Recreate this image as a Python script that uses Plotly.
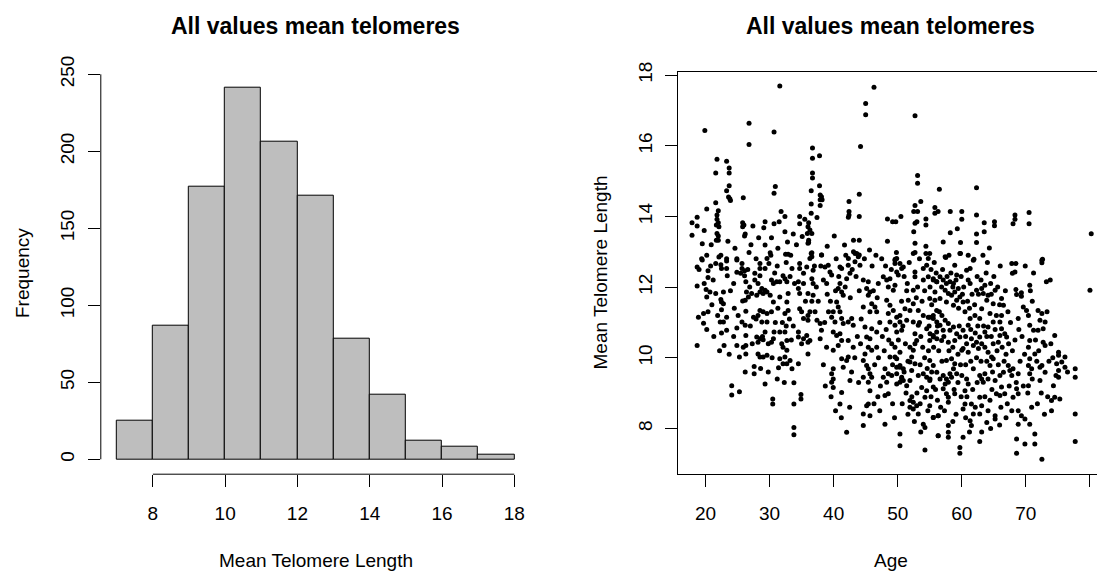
import plotly.graph_objects as go

# ---------------- data ----------------
bin_edges = [7, 8, 9, 10, 11, 12, 13, 14, 15, 16, 17, 18]
counts = [25, 87, 177, 241, 206, 171, 78, 42, 12, 8, 3]
hist_xticks = [8, 10, 12, 14, 16, 18]
hist_yticks = [0, 50, 100, 150, 200, 250]
scatter_xticks = [20, 30, 40, 50, 60, 70, 80]
scatter_yticks = [8, 10, 12, 14, 16, 18]

# (age, mean telomere length), grouped by region
young_upper = [(31.6,17.69),(19.9,16.43),(26.8,16.64),(26.8,16.04),(30.7,16.39),(21.8,15.62),(23.3,15.56),(23.7,15.37),(23.7,15.23),(21.6,15.23),(23.7,14.87),(23.3,14.73),(23.8,14.5),(23.9,14.45),(23.6,14.55),(25.9,14.53),(30.9,14.85),(30.7,14.66),(21.6,14.39),(20.2,14.21),(22.0,14.16),(18.7,13.98),(17.9,13.82),(18.7,13.73),(17.9,13.47),(21.8,14.04),(21.8,13.92),(22.0,13.82),(21.7,13.76),(22.1,13.71),(21.8,13.52),(22.0,13.45),(21.7,13.33),(22.0,13.33),(19.5,13.23),(25.8,13.82),(26.0,13.76),(25.8,13.71),(26.2,13.5),(26.1,13.45),(27.4,13.73),(29.3,13.85),(29.1,13.68),(30.7,13.79),(31.5,13.85),(31.8,14.14),(32.4,14.0),(32.4,13.57),(32.8,13.28),(30.3,13.4),(29.3,13.19),(34.7,14.0),(35.5,13.92),(34.7,13.79),(36.1,13.82),(35.1,13.43),(35.9,13.52),(36.1,13.33),(36.1,13.26),(26.8,12.98),(30.1,12.97),(30.2,12.9),(32.5,12.93),(32.9,12.93),(33.3,12.9),(20.2,12.9),(22.1,12.85),(22.4,12.9),(23.3,12.8),(24.9,12.8),(19.4,12.8)]

young_lower = [(19.5,12.77),(18.7,12.57),(20.4,12.46),(20.4,12.27),(21.6,12.67),(22.4,12.63),(22.5,12.53),(23.3,12.74),(23.3,12.53),(23.4,12.32),(24.9,12.77),(25.7,12.67),(25.7,12.53),(24.9,12.42),(26.1,12.46),(26.1,12.32),(25.5,12.39),(28.5,12.67),(28.5,12.53),(27.7,12.39),(28.5,12.32),(29.6,12.81),(29.9,12.67),(29.3,12.53),(32.6,12.7),(33.5,12.53),(32.1,12.32),(34.7,12.67),(34.7,12.53),(35.3,12.39),(34.5,12.15),(35.3,12.1),(18.7,12.03),(20.1,11.93),(20.2,11.72),(20.7,11.86),(21.6,11.82),(22.4,11.65),(22.8,11.86),(22.5,11.58),(22.8,11.53),(26.3,12.15),(26.9,12.0),(26.4,11.86),(27.2,11.82),(26.7,11.72),(26.2,11.63),(25.8,11.61),(27.7,12.2),(28.2,12.1),(28.8,11.96),(29.3,11.91),(29.6,11.86),(28.5,11.86),(28.0,11.77),(29.0,11.82),(30.3,12.2),(31.1,12.15),(30.6,12.1),(31.6,12.15),(32.7,12.15),(32.4,12.24),(30.1,11.77),(31.6,11.72),(32.9,11.82),(32.7,11.58),(30.6,11.58),(34.7,11.82),(34.5,11.96),(36.0,11.82),(18.9,11.15),(19.7,11.25),(20.4,11.3),(19.7,10.98),(18.7,10.35),(22.5,11.36),(23.3,11.15),(22.3,11.01),(22.8,11.01),(22.5,10.7),(23.3,10.78),(22.9,10.35),(24.9,10.84),(25.7,11.01),(26.2,10.92),(26.3,10.63),(24.9,10.35),(26.3,10.35),(25.3,10.02),(26.3,10.11),(26.3,11.32),(27.5,11.15),(28.2,11.2),(28.5,11.34),(29.0,11.3),(29.6,11.25),(28.8,11.01),(30.3,11.3),(29.6,11.01),(32.4,11.25),(32.9,11.34),(34.7,11.39),(35.0,11.3),(35.3,11.11),(36.0,11.2),(36.0,11.06),(28.0,10.59),(28.5,10.54),(28.2,10.44),(29.0,10.51),(29.3,10.73),(30.7,10.73),(30.6,10.54),(30.3,10.44),(31.6,10.73),(32.4,10.73),(32.7,10.49),(31.9,10.4),(32.1,10.3),(32.7,10.21),(28.2,10.11),(28.5,10.02),(29.6,10.07),(29.0,10.02),(31.6,9.97),(32.4,10.02),(33.2,9.92),(32.7,9.83),(32.1,9.83),(31.4,9.72),(33.5,9.69),(34.5,10.59),(34.5,10.73),(35.3,10.54),(35.8,10.63),(35.0,10.4),(36.0,10.44),(36.0,10.11),(34.5,9.83),(27.6,9.75),(27.6,9.55),(24.1,9.21),(24.1,8.95),(25.3,9.04),(29.3,9.26),(30.5,8.83),(30.5,8.69),(33.8,9.29),(33.8,8.69),(34.9,8.96),(34.9,8.83),(33.8,8.03),(33.8,7.82),
(19.0,12.5),(19.8,12.1),(20.8,12.6),(21.2,12.2),(21.0,11.5),(21.9,11.2),(23.9,11.9),(24.4,12.1),(24.5,11.4),(25.1,11.2),(24.4,10.6),(23.7,10.1),(25.9,10.3),(27.0,10.9),(27.3,10.4),(27.9,11.1),(28.9,10.6),(29.8,10.4),(30.4,10.0),(30.9,11.0),(31.3,11.4),(32.0,11.0),(32.6,10.9),(33.1,11.1),(33.4,10.5),(33.7,10.9),(33.9,12.1),(33.2,12.3),(31.2,12.6),(30.8,12.4),(27.9,12.8),(26.6,12.5),(27.1,13.2),(28.3,13.4),(24.6,13.1),(23.5,13.3),(20.9,13.2),(19.8,13.6),(33.7,13.5),(34.2,13.2),(31.3,13.1),(36.6,11.6),(37.0,12.6),(35.6,11.6),(29.8,9.6),(31.2,9.4),(32.3,9.3),(28.6,9.7),(26.2,9.6),(22.2,10.2),(21.3,10.6),(20.2,10.8)]

mid_upper = [(46.3,17.66),(45.0,17.2),(45.0,16.88),(44.2,15.98),(52.7,16.85),(36.7,15.94),(36.7,15.65),(37.8,15.72),(36.7,15.23),(36.7,15.09),(37.8,14.87),(36.5,14.73),(37.9,14.61),(38.1,14.56),(37.9,14.47),(38.2,14.47),(37.9,14.31),(36.5,14.35),(36.5,14.09),(37.4,13.97),(42.4,14.42),(42.4,14.14),(42.4,14.04),(42.3,13.98),(44.0,14.63),(44.0,14.0),(36.0,13.71),(36.3,13.62),(36.6,13.52),(36.0,13.24),(36.6,12.97),(36.6,12.86),(38.1,12.91),(39.0,13.16),(40.1,13.45),(41.7,13.19),(43.1,13.33),(44.0,13.33),(43.1,13.0),(43.6,12.95),(44.0,12.91),(42.3,12.81),(45.6,13.05),(48.4,13.93),(49.2,13.85),(49.7,13.85),(50.5,14.0),(48.4,13.3),(49.8,12.98),(49.6,12.79),(52.7,14.31),(52.5,14.14),(53.1,14.14),(52.7,13.81),(53.0,13.85),(52.5,13.57),(53.1,15.16),(53.1,14.94),(53.6,14.42),(52.7,13.24),(52.7,12.98),(54.4,13.93),(54.4,13.76),(54.4,13.16),(54.4,12.95),(55.0,12.95),(55.8,14.25),(55.8,14.09),(56.3,14.14),(56.5,14.77)]

mid_lower = [(36.5,12.95),(36.3,12.81),(35.8,12.57),(36.8,12.48),(36.6,12.24),(36.8,12.1),(36.8,11.77),(36.3,11.3),(37.1,11.3),(37.4,11.06),(37.9,10.97),(38.1,10.78),(37.9,10.54),(36.3,10.49),
(38.13,12.91),(38.65,12.57),(39.16,12.62),(39.43,12.43),(39.69,12.34),(38.91,12.1),(40.99,12.57),(41.25,12.53),(42.28,12.62),(42.55,12.39),(42.03,12.24),(40.99,12.1),(40.72,11.96),(41.25,11.86),(41.5,11.77),(40.47,11.58),(40.72,11.44),(39.94,11.3),(39.69,11.15),(40.21,11.01),(40.99,11.3),(41.25,11.11),(41.5,10.97),(42.28,11.01),(42.82,11.11),(43.06,10.92),(39.94,10.73),(40.47,10.63),(40.99,10.68),(41.25,10.49),(40.72,10.35),(42.28,10.49),(43.06,10.3),(39.94,10.21),(41.25,9.97),(42.03,9.92),(41.5,9.73),(42.28,10.02),(39.94,9.69),(39.69,9.55),(39.94,9.4),(39.69,9.31),(39.94,9.16),(41.25,9.02),(40.99,8.69),(42.55,9.36),(42.03,7.89),
(43.33,12.95),(43.85,12.86),(43.33,12.72),(44.11,12.62),(44.63,12.2),(45.41,12.15),(45.15,11.96),(45.67,11.86),(45.41,11.77),(44.63,11.44),(45.94,11.53),(46.45,11.44),(46.72,11.3),(45.67,11.3),(44.89,10.87),(45.94,10.82),(46.72,10.73),(45.15,10.59),(45.67,10.54),(45.41,10.3),(44.89,10.11),(45.94,10.21),(46.72,10.3),(44.63,9.92),(45.15,9.78),(45.41,9.69),(45.67,9.55),(44.63,9.45),(45.94,9.45),(45.41,9.31),(45.67,9.07),(45.41,8.69),(45.15,8.64),(44.63,8.41),(45.67,8.36),(44.63,8.08),(48.01,9.69),(47.75,9.45),(48.53,9.55),(48.01,8.93),(48.53,8.98),(48.01,8.12),(46.97,12.1),(47.75,12.29),(48.28,12.2),(48.79,12.24),(48.53,12.0),(49.31,11.91),(49.57,12.05),(49.84,12.43),(50.09,12.34),(49.57,12.67),(49.84,12.81),(50.62,12.53),(48.28,11.63),(48.79,11.49),(48.53,11.25),(49.31,11.34),(49.84,11.15),(48.79,11.01),(49.57,10.92),(50.35,11.2),(50.35,11.01),(49.84,10.73),(50.62,10.78),(49.06,10.4),(49.57,10.3),(48.79,10.02),(49.84,9.97),(50.35,10.16),(49.84,9.73),(50.35,9.73),(50.62,9.45),(49.06,9.5),(48.28,9.31),(49.84,9.26),(50.35,9.31),(50.87,9.36),
(52.43,12.95),(54.77,12.81),(54.52,12.62),(53.99,12.53),(49.57,12.76),(50.35,12.67),(50.87,12.57),(52.69,12.43),(52.69,12.29),(52.43,11.91),(54.77,12.29),(55.55,12.2),(56.08,12.15),(55.04,12.0),(55.81,11.86),(51.65,11.63),(52.43,11.53),(51.13,11.39),(51.91,11.34),(53.21,11.34),(53.99,11.2),(54.77,11.15),(55.55,11.2),(56.08,11.34),(51.4,11.06),(52.43,11.01),(53.21,10.92),(54.52,10.82),(55.04,10.68),(55.55,10.59),(56.08,10.73),(52.69,10.68),(52.96,10.49),(52.69,10.4),(51.91,10.3),(52.43,10.21),(52.18,10.02),(51.91,9.88),(52.69,9.83),(52.18,9.64),(51.91,9.36),(51.4,9.21),(53.21,9.5),(53.99,9.55),(54.52,9.45),(55.04,9.4),(53.74,9.16),(54.52,9.07),(54.25,8.88),(51.91,8.79),(52.43,8.74),(52.96,8.64),(52.43,8.55),(53.21,8.41),(51.91,8.6),(53.99,8.12),(54.25,8.03),(50.35,7.84),(50.35,7.51),(54.25,7.39),(56.33,8.36),(55.55,8.31),(56.33,7.79),(49.57,10.02),(50.35,9.78),(50.87,9.69),(49.84,9.55),(50.62,9.4),
(38.4,12.2),(39.0,11.8),(39.5,11.6),(40.3,11.9),(40.8,12.3),(41.8,12.0),(42.6,11.7),(43.5,12.3),(44.0,11.9),(44.3,11.1),(43.7,10.6),(43.3,10.0),(42.8,9.6),(43.9,9.3),(44.2,10.4),(46.2,11.9),(46.8,11.7),(47.2,11.0),(47.6,10.6),(47.0,10.0),(46.4,9.8),(47.3,9.2),(46.9,8.9),(48.2,10.8),(48.6,10.5),(47.9,10.2),(49.2,9.8),(50.1,10.5),(50.8,10.9),(51.2,10.4),(51.6,9.9),(51.0,9.6),(51.3,9.0),(50.7,8.7),(51.6,8.4),(52.2,8.9),(53.0,9.0),(53.5,9.8),(53.9,10.3),(54.2,10.0),(54.8,10.2),(54.6,9.7),(55.3,9.6),(53.6,10.6),(53.4,11.0),(53.8,11.6),(54.2,11.9),(53.1,12.0),(51.5,12.1),(51.0,12.3),(51.8,12.7),(53.4,12.8),(50.6,11.6),(51.4,11.9),(52.9,11.7),(54.0,12.2),(55.2,12.5),(55.7,12.7),(56.0,12.4),(55.3,11.5),(56.5,11.3),(56.2,10.9),(54.9,10.9),(55.6,10.3),(56.4,10.2),(56.9,9.9),(56.6,9.4),(55.9,9.1),(56.2,8.8),(55.2,8.9),(54.7,8.5),(53.5,8.7),(52.6,8.2),(53.6,7.9),(49.2,8.7),(49.5,8.3),(47.2,8.5),(46.3,8.7),(42.5,8.6),(41.2,8.3),(40.3,8.5),(39.6,8.9),(38.7,9.2),(38.4,9.8),(38.9,10.3),(38.6,11.0),(39.2,11.3),(37.6,11.6),(37.3,12.0),(38.0,12.6),(40.4,12.8),(41.9,12.9),(42.9,12.5),(44.8,12.8),(46.0,12.6),(47.5,12.8),(48.1,12.6),(46.6,12.9),(49.0,12.5)]

old_upper = [(62.3,14.81),(58.2,14.14),(60.0,14.14),(60.0,13.92),(62.3,14.04),(63.5,13.82),(65.1,13.85),(65.1,13.74),(68.3,14.04),(68.3,13.92),(68.0,13.79),(70.5,14.11),(70.5,13.79),(80.2,13.51),(58.2,13.54),(59.3,13.65),(57.1,13.28),(59.8,13.26),(62.3,13.5),(62.3,13.26),(63.5,13.57),(64.3,13.11),(57.5,12.84),(59.8,12.95),(61.9,12.79),(72.6,12.79)]

old_lower = [(57.4,12.86),(59.7,12.95),(61.8,12.76),(58.9,12.62),(59.2,12.34),(60.75,12.48),(61.3,12.53),(61.0,12.2),(61.3,12.1),(62.3,11.91),(63.1,11.96),(63.6,12.05),(63.35,11.82),(64.1,11.77),(63.9,11.63),(64.9,11.53),(65.2,11.91),(66.2,11.68),(66.5,11.49),(67.8,12.67),(68.45,12.67),(67.9,12.39),(68.3,12.43),(72.5,12.76),(72.5,12.69),(73.2,12.15),(70.6,12.05),(68.45,11.93),(68.55,11.79),(69.3,11.84),(69.3,11.74),(80.0,11.91),
(55.55,12.24),(56.1,12.15),(56.6,12.29),(57.1,12.2),(57.6,12.1),(58.15,12.15),(58.7,12.1),(56.85,12.0),(57.4,11.91),(57.9,11.82),(58.4,11.77),(58.9,11.86),(59.45,11.96),(59.7,11.72),(59.2,11.63),(60.2,11.58),(58.7,11.49),(57.6,11.58),(56.6,11.68),(55.8,11.63),(55.0,11.68),
(55.0,11.15),(55.55,11.11),(56.1,11.01),(56.6,10.92),(57.4,11.06),(57.9,10.97),(57.1,10.78),(58.15,10.78),(58.7,10.87),(59.2,10.68),(55.55,10.63),(56.1,10.54),(55.0,10.49),(56.85,10.49),(57.9,10.44),(58.9,10.49),(59.7,10.59),(60.2,10.78),(61.0,10.92),(61.3,11.11),(62.05,11.2),(62.8,11.11),(63.1,11.39),(64.4,11.25),(64.9,11.01),(64.1,10.87),(63.6,10.73),(62.8,10.59),(62.3,10.44),(61.5,10.54),(60.75,10.4),(60.2,10.26),(60.0,10.21),(61.0,10.16),(61.8,10.35),(62.6,10.26),(63.1,10.4),(63.6,10.3),(64.1,10.16),(64.65,10.02),(64.9,10.4),(65.7,10.44),(65.95,10.63),(66.2,10.82),(66.7,10.68),(67.0,10.59),(66.2,11.2),(65.95,11.01),(68.8,11.11),(69.6,11.44),(70.1,11.34),(70.4,11.2),(70.6,10.92),(71.2,10.78),(71.9,10.78),(72.7,10.82),(72.2,11.06),(72.5,11.25),(71.9,11.34),(73.0,11.01),(74.5,10.63),(70.6,10.49),(70.4,10.3),(71.4,10.11),(72.7,10.44),(73.0,10.35),
(55.0,9.92),(55.55,9.78),(56.1,9.59),(55.0,9.36),(55.55,9.17),(57.1,9.5),(57.6,9.4),(58.15,9.55),(58.7,9.69),(58.9,9.83),(58.4,9.97),(57.6,9.92),(57.4,9.26),(57.9,9.31),(58.4,9.45),(59.2,9.55),(60.0,9.5),(60.75,9.4),(61.0,9.26),(61.8,9.69),(62.8,9.5),(63.1,9.4),(63.6,9.55),(63.35,9.31),(64.1,9.4),(64.4,9.78),(64.9,9.97),(65.2,9.36),(65.95,9.5),(66.5,9.59),(67.25,9.78),(67.5,9.64),(68.0,9.69),(67.8,9.5),(68.8,9.55),(66.2,9.17),(66.7,8.98),(65.95,8.93),(65.4,8.98),(68.0,8.88),(68.55,9.12),(68.8,8.98),(70.6,9.97),(70.4,9.78),(70.9,9.69),(72.2,9.73),(72.5,9.78),(73.0,9.59),(72.2,9.36),(70.4,9.21),(70.6,9.55),(75.1,10.16),(75.1,10.07),(75.6,9.88),(76.1,10.02),(76.1,9.73),(74.8,9.83),(75.1,9.64),(75.1,9.45),(77.7,9.69),(77.7,9.45),(74.3,9.21),(74.5,8.88),(74.0,8.79),(75.3,8.83),(74.0,8.5),
(55.0,8.64),(55.55,8.31),(56.3,8.36),(57.6,8.98),(57.1,9.12),(57.9,8.88),(57.9,8.74),(58.9,8.98),(60.5,9.07),(60.5,8.69),(60.2,8.55),(61.5,8.69),(61.8,8.41),(61.3,8.22),(61.5,8.08),(62.8,8.88),(63.1,8.64),(62.8,8.41),(63.9,8.17),(65.2,8.36),(65.2,8.27),(67.8,8.5),(68.8,8.5),(69.3,8.36),(68.8,8.12),(69.85,8.27),(70.6,8.12),(70.9,8.6),(71.4,7.84),(68.55,7.7),(69.85,7.56),(71.4,7.56),(68.55,7.3),(72.5,7.13),(62.8,7.63),(59.7,7.46),(59.7,7.3),(57.9,8.08),(57.9,7.89),(57.9,7.75),(56.3,7.79),(60.2,7.75),(77.7,8.41),(77.7,7.63),
(57.0,12.5),(57.7,12.3),(58.3,12.4),(58.6,12.0),(59.1,12.2),(59.9,12.3),(60.3,12.0),(60.1,11.8),(59.5,11.4),(60.5,11.3),(60.9,11.6),(61.6,11.8),(62.0,11.5),(61.2,11.4),(62.6,11.8),(63.0,12.2),(62.4,12.3),(63.8,12.4),(64.5,12.1),(64.6,11.8),(65.0,12.3),(65.6,12.0),(65.9,11.5),(65.4,11.2),(66.8,11.9),(67.2,11.3),(67.6,11.0),(67.3,10.4),(66.9,10.1),(67.9,10.2),(68.3,10.5),(68.9,10.8),(69.4,10.6),(69.8,10.1),(69.1,9.9),(68.5,9.3),(69.6,9.2),(70.3,9.0),(71.0,9.4),(71.7,9.9),(72.0,10.2),(71.5,10.5),(72.4,9.0),(71.8,8.7),(72.9,8.4),(73.4,8.9),(73.6,9.9),(73.9,10.4),(74.2,10.0),(74.7,9.5),(76.5,9.6),(73.3,11.3),(71.0,11.6),(70.7,11.9),(69.9,12.6),(71.2,12.4),(73.8,12.2),(66.0,12.6),(64.0,12.7),(63.3,12.9),(61.0,12.9),(58.0,12.9),(56.9,11.2),(57.2,10.6),(58.0,10.2),(58.6,10.3),(59.4,10.1),(59.6,10.9),(60.6,10.6),(61.4,10.8),(62.1,10.7),(62.5,10.9),(63.4,10.9),(63.9,10.6),(64.6,10.6),(65.2,10.8),(65.5,10.2),(66.3,10.3),(66.6,9.9),(65.7,9.8),(64.8,9.6),(63.9,9.9),(63.0,9.9),(62.3,10.0),(61.4,9.9),(60.6,9.8),(59.8,9.8),(59.4,9.3),(58.8,9.1),(59.9,8.9),(60.8,8.9),(61.7,9.1),(62.4,9.3),(62.1,8.6),(63.6,8.9),(64.4,8.8),(64.1,8.5),(64.7,9.1),(66.1,8.6),(67.1,8.7),(67.4,9.2),(66.9,8.3),(65.9,8.1),(64.5,8.0),(63.1,7.9),(61.2,7.9),(60.6,8.3),(59.1,8.4),(58.6,8.2),(57.3,8.5),(56.7,8.6)]

points = young_upper + young_lower + mid_upper + mid_lower + old_upper + old_lower
ages = [p[0] for p in points]
telomeres = [p[1] for p in points]

# ---------------- figure ----------------
W, H = 1097, 572
FONT = "Liberation Sans, Arial, sans-serif"
TOP, BOT = 71.7, 474.2


def fx(v):
    return v / W


def fy(v):
    return 1 - v / H


ydom = [fy(BOT), fy(TOP)]
tickfont = dict(family=FONT, size=19, color="black")
common = dict(ticks="outside", ticklen=12, tickwidth=1, tickcolor="black", automargin=False,
              showgrid=False, zeroline=False, tickfont=tickfont, fixedrange=True)

centers = [(a + b) / 2 for a, b in zip(bin_edges[:-1], bin_edges[1:])]

fig = go.Figure()
fig.add_trace(go.Bar(x=centers, y=counts, width=1,
                     marker=dict(color="#BEBEBE", line=dict(color="black", width=1)),
                     xaxis="x", yaxis="y", hoverinfo="skip"))
fig.add_trace(go.Scatter(x=ages, y=telomeres, mode="markers",
                         marker=dict(color="black", size=5, line=dict(width=0)),
                         xaxis="x2", yaxis="y2", hoverinfo="skip"))

fig.update_layout(
    width=W, height=H, margin=dict(l=0, r=0, t=0, b=0, pad=0), autosize=False,
    paper_bgcolor="white", plot_bgcolor="white", showlegend=False, bargap=0,
    xaxis=dict(domain=[fx(100.8), fx(530.2)], range=[6.56, 18.44], tickvals=hist_xticks,
               showline=False, anchor="y", ticklabelstandoff=10, **common),
    yaxis=dict(domain=ydom, range=[-9.68, 251.7], tickvals=hist_yticks, tickangle=-90,
               showline=False, anchor="x", ticklabelstandoff=6, **common),
    xaxis2=dict(domain=[fx(678.3), 1.0], range=[15.76, 81.1], tickvals=scatter_xticks,
                showline=True, mirror=True, linecolor="black", linewidth=1,
                anchor="y2", ticklabelstandoff=10, **common),
    yaxis2=dict(domain=ydom, range=[6.705, 18.097], tickvals=scatter_yticks, tickangle=-90,
                showline=True, linecolor="black", linewidth=1,
                anchor="x2", ticklabelstandoff=6, **common),
)

# R-style axis lines of the histogram (only between the extreme ticks)
fig.add_shape(type="line", xref="x", yref="y domain", x0=hist_xticks[0], x1=hist_xticks[-1],
              y0=0, y1=0, line=dict(color="black", width=1))
fig.add_shape(type="line", xref="x domain", yref="y", x0=0, x1=0,
              y0=hist_yticks[0], y1=hist_yticks[-1], line=dict(color="black", width=1))

title_font = dict(family=FONT, size=23, color="black")
label_font = dict(family=FONT, size=19, color="black")
annots = [
    dict(text="<b>All values mean telomeres</b>", x=fx(315.5), y=fy(26), font=title_font),
    dict(text="<b>All values mean telomeres</b>", x=fx(890), y=fy(26), font=title_font),
    dict(text="Mean Telomere Length", x=fx(315.5), y=fy(560), font=label_font),
    dict(text="Age", x=fx(891), y=fy(560), font=label_font),
    dict(text="Frequency", x=fx(22), y=fy(273), font=label_font, textangle=-90),
    dict(text="Mean Telomere Length", x=fx(599.5), y=fy(273), font=label_font, textangle=-90),
]
for a in annots:
    fig.add_annotation(xref="paper", yref="paper", xanchor="center", yanchor="middle",
                       showarrow=False, **a)

fig.write_html("out.html")
